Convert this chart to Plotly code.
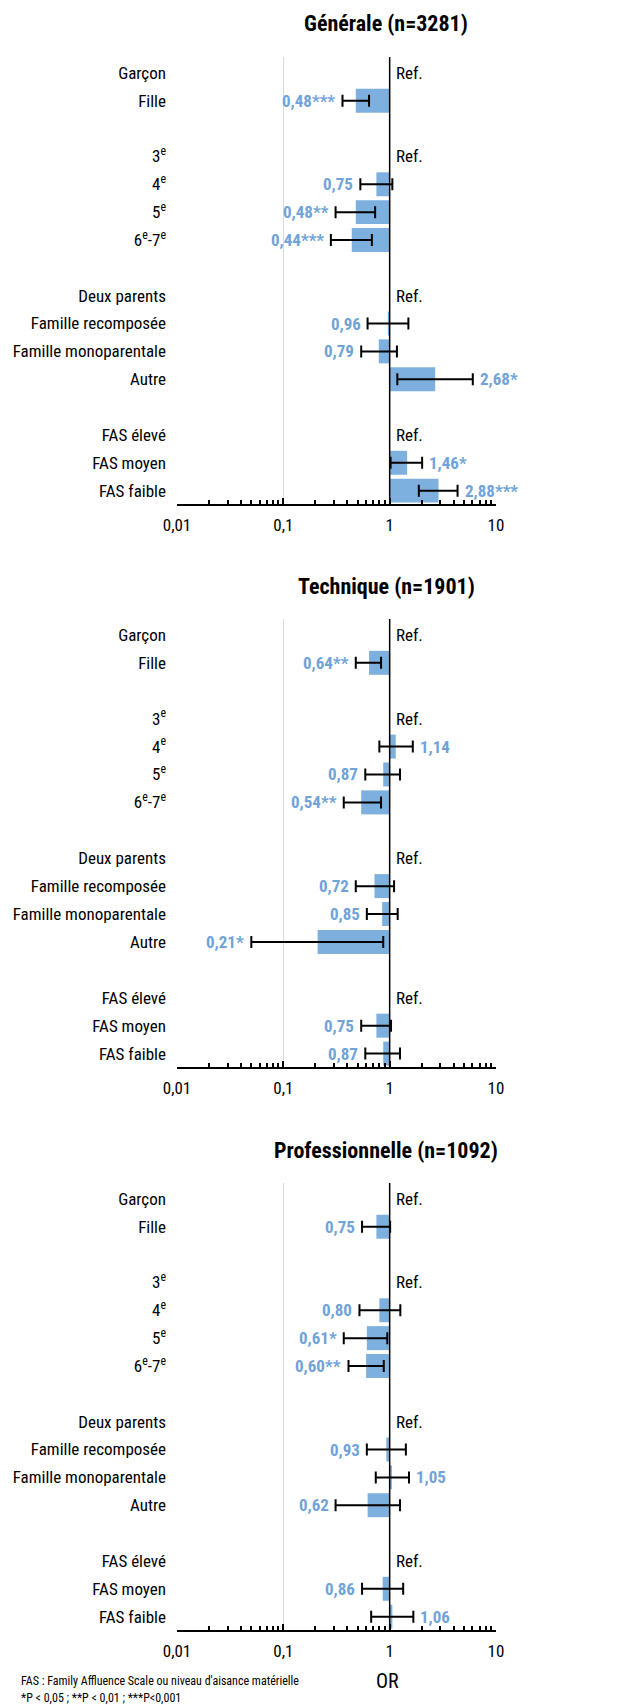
import numpy as np
import plotly.graph_objects as go

# Row labels (blank strings are spacer rows between variable groups)
row_labels = ["Garçon", "Fille", "",
              "3<sup>e</sup>", "4<sup>e</sup>", "5<sup>e</sup>", "6<sup>e</sup>-7<sup>e</sup>", "",
              "Deux parents", "Famille recomposée", "Famille monoparentale", "Autre", "",
              "FAS élevé", "FAS moyen", "FAS faible"]
ref_rows = [0, 3, 8, 13]                       # reference categories
est_rows = [1, 4, 5, 6, 9, 10, 11, 14, 15]     # estimated categories

panel_titles = ["Générale (n=3281)", "Technique (n=1901)", "Professionnelle (n=1092)"]

# Odds ratios, 95% CI bounds and significance stars per track
gen_or = [0.48, 0.75, 0.48, 0.44, 0.96, 0.79, 2.68, 1.46, 2.88]
gen_lo = [0.36, 0.53, 0.31, 0.28, 0.62, 0.54, 1.18, 1.02, 1.88]
gen_hi = [0.64, 1.06, 0.73, 0.68, 1.50, 1.17, 6.05, 2.02, 4.35]
gen_sig = ["***", "", "**", "***", "", "", "*", "*", "***"]

tech_or = [0.64, 1.14, 0.87, 0.54, 0.72, 0.85, 0.21, 0.75, 0.87]
tech_lo = [0.48, 0.80, 0.59, 0.37, 0.48, 0.61, 0.05, 0.54, 0.59]
tech_hi = [0.83, 1.65, 1.25, 0.83, 1.10, 1.19, 0.87, 1.03, 1.25]
tech_sig = ["**", "", "", "**", "", "", "*", "", ""]

pro_or = [0.75, 0.80, 0.61, 0.60, 0.93, 1.05, 0.62, 0.86, 1.06]
pro_lo = [0.55, 0.52, 0.37, 0.41, 0.61, 0.74, 0.31, 0.55, 0.67]
pro_hi = [1.01, 1.26, 0.95, 0.88, 1.42, 1.52, 1.25, 1.34, 1.67]
pro_sig = ["", "", "*", "**", "", "", "", "", ""]

x_tickvals = [0.01, 0.1, 1, 10]
x_ticktext = ["0,01", "0,1", "1", "10"]

panels = [
    (gen_or, gen_lo, gen_hi, gen_sig),
    (tech_or, tech_lo, tech_hi, tech_sig),
    (pro_or, pro_lo, pro_hi, pro_sig),
]

FONT = "Roboto Condensed, Liberation Sans Narrow, Arial Narrow, sans-serif"
BAR_COLOR = "#7DB0DE"
LABEL_COLOR = "#6FA3D9"
GRID_COLOR = "#D9D9D9"
FS = 17

W, H = 620, 1705
# vertical pixel extents (top, bottom) of each plot area
panel_px = [(57, 504), (619, 1067), (1183, 1630)]
title_px = [24, 586, 1150]
x_domain = [177 / W, 496 / W]

minor_vals = [m * 10.0 ** d for d in range(-2, 1) for m in range(2, 10)]

fig = go.Figure()
annotations = []
shapes = []

for i, (ors, los, his, sigs) in enumerate(panels):
    n = "" if i == 0 else str(i + 1)
    xa, ya = "x" + n, "y" + n

    ors_a = np.array(ors)
    # bars grow from OR = 1
    fig.add_trace(go.Bar(
        x=ors_a - 1, y=est_rows, base=1, orientation="h",
        width=0.86, marker=dict(color=BAR_COLOR, line=dict(width=0)),
        xaxis=xa, yaxis=ya, showlegend=False, hoverinfo="skip",
    ))
    # confidence intervals
    fig.add_trace(go.Scatter(
        x=ors, y=est_rows, mode="markers",
        marker=dict(size=1, color="rgba(0,0,0,0)"),
        error_x=dict(type="data", symmetric=False,
                     array=list(np.array(his) - ors_a),
                     arrayminus=list(ors_a - np.array(los)),
                     color="black", thickness=2, width=6),
        xaxis=xa, yaxis=ya, showlegend=False, hoverinfo="skip",
    ))

    # value labels next to the CI whiskers
    for r, v, lo, hi, s in zip(est_rows, ors, los, his, sigs):
        txt = f"{v:.2f}".replace(".", ",") + s
        left = v < 1
        annotations.append(dict(
            x=np.log10(lo if left else hi), y=r, xref=xa, yref=ya,
            text=f"<b>{txt}</b>", showarrow=False,
            xanchor="right" if left else "left", yanchor="middle",
            xshift=-5 if left else 5,
            font=dict(family=FONT, size=FS, color=LABEL_COLOR),
        ))
    for r in ref_rows:
        annotations.append(dict(
            x=0, y=r, xref=xa, yref=ya, text="Ref.", showarrow=False,
            xanchor="left", yanchor="middle", xshift=4,
            font=dict(family=FONT, size=FS, color="black"),
        ))

    # reference line at OR = 1
    shapes.append(dict(type="line", xref=xa, yref=ya + " domain",
                       x0=1, x1=1, y0=0, y1=1,
                       line=dict(color="black", width=1.5), layer="above"))

    top, bot = panel_px[i]
    fig.layout["xaxis" + n] = dict(
        type="log", range=[-2, 1], domain=x_domain, anchor=ya,
        tickmode="array", tickvals=x_tickvals, ticktext=x_ticktext,
        showline=True, linecolor="black", linewidth=1.5,
        ticks="inside", ticklen=6, tickcolor="black", tickwidth=1.5,
        minor=dict(tickmode="array", tickvals=minor_vals, ticks="inside",
                   ticklen=4, tickcolor="black", tickwidth=1.5, showgrid=False),
        showgrid=True, gridcolor=GRID_COLOR, gridwidth=1.2,
        zeroline=False, fixedrange=True, automargin=False,
        tickfont=dict(family=FONT, size=FS, color="black"),
        ticklabelstandoff=5,
    )
    fig.layout["yaxis" + n] = dict(
        domain=[(H - bot) / H, (H - top) / H], anchor=xa,
        range=[15.48, -0.57], tickmode="array",
        tickvals=list(range(len(row_labels))), ticktext=row_labels,
        showgrid=False, showline=False, zeroline=False, ticks="",
        ticklabelstandoff=10, fixedrange=True, automargin=False,
        tickfont=dict(family=FONT, size=FS, color="black"),
    )

    annotations.append(dict(
        x=386 / W, y=(H - title_px[i]) / H, xref="paper", yref="paper",
        text=f"<b>{panel_titles[i]}</b>", showarrow=False,
        xanchor="center", yanchor="middle",
        font=dict(family=FONT, size=22, color="black"),
    ))

# axis title and footnotes
annotations.append(dict(
    x=387 / W, y=(H - 1681) / H, xref="paper", yref="paper", text="OR",
    showarrow=False, xanchor="center", yanchor="middle",
    font=dict(family=FONT, size=20, color="black"),
))
annotations.append(dict(
    x=19 / W, y=(H - 1681) / H, xref="paper", yref="paper",
    text="FAS : Family Affluence Scale ou niveau d'aisance matérielle",
    showarrow=False, xanchor="left", yanchor="middle",
    font=dict(family=FONT, size=12, color="black"),
))
annotations.append(dict(
    x=19 / W, y=(H - 1698) / H, xref="paper", yref="paper",
    text="*P < 0,05 ; **P < 0,01 ; ***P<0,001",
    showarrow=False, xanchor="left", yanchor="middle",
    font=dict(family=FONT, size=12, color="black"),
))

fig.update_layout(
    width=W, height=H, margin=dict(l=0, r=0, t=0, b=0),
    paper_bgcolor="white", plot_bgcolor="white",
    barmode="overlay", showlegend=False,
    annotations=annotations, shapes=shapes,
    font=dict(family=FONT),
)

fig.write_html("out.html")
